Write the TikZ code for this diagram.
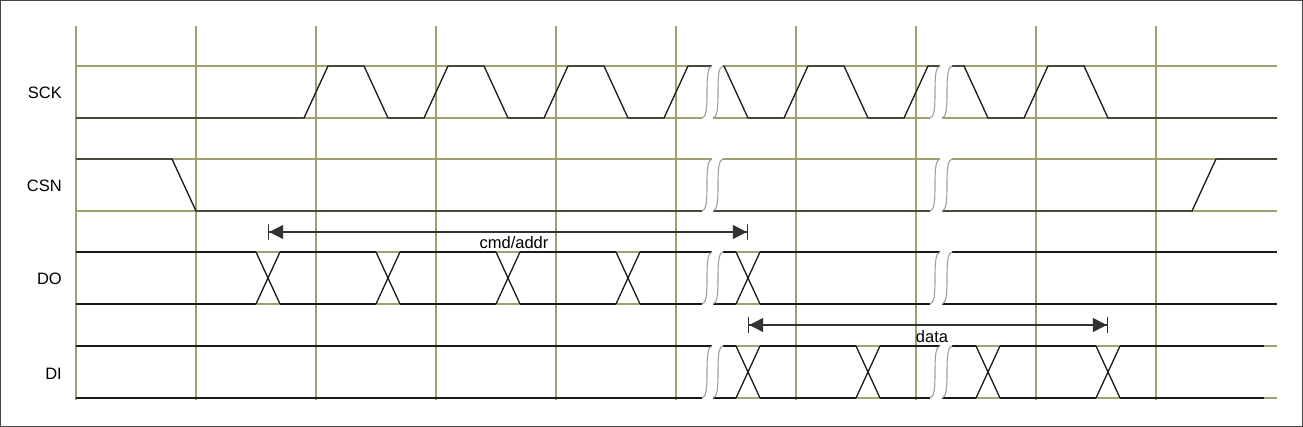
\documentclass[tikz,border=0pt]{standalone}
\usepackage{fontspec}
\setmainfont{Liberation Sans}
\usetikzlibrary{arrows.meta}
\definecolor{gridc}{RGB}{160,160,110}
\definecolor{sig}{RGB}{25,25,25}
\definecolor{brk}{RGB}{160,160,160}
\definecolor{frame}{RGB}{70,70,70}
\newcommand{\brksym}[4]{%
  \pgfmathsetmacro{\brkM}{(#3+#4)/2}%
  \pgfmathsetmacro{\brkR}{#1+#2}%
  \fill[white] (#1+10,#3-1) -- (#1+10,#3) .. controls (#1+6,#3+1) and (#1+5,#3+8) .. (#1+5,\brkM)
     .. controls (#1+5,#4-8) and (#1+4,#4-1) .. (#1,#4) -- (#1,#4+1) -- (\brkR,#4+1) -- (\brkR,#4)
     .. controls (\brkR+4,#4-1) and (\brkR+5,#4-8) .. (\brkR+5,\brkM)
     .. controls (\brkR+5,#3+8) and (\brkR+6,#3+1) .. (\brkR+10,#3) -- (\brkR+10,#3-1) -- cycle;
  \draw[brkcurve] (#1+10,#3) .. controls (#1+6,#3+1) and (#1+5,#3+8) .. (#1+5,\brkM)
     .. controls (#1+5,#4-8) and (#1+4,#4-1) .. (#1,#4);
  \draw[brkcurve] (\brkR+10,#3) .. controls (\brkR+6,#3+1) and (\brkR+5,#3+8) .. (\brkR+5,\brkM)
     .. controls (\brkR+5,#4-8) and (\brkR+4,#4-1) .. (\brkR,#4);
}
\begin{document}
\begin{tikzpicture}[x=1pt,y=-1pt,
  gridline/.style={draw=gridc,line width=1.4pt},
  wave/.style={draw=sig,line width=1.3pt,line join=miter},
  brkcurve/.style={draw=brk,line width=1.1pt},
  lab/.style={font=\fontsize{16.5}{19}\selectfont,inner sep=0pt},
  dimline/.style={draw=black!80,line width=1.2pt,
    {Bar[width=16pt]Triangle[length=14pt,width=14pt]}-{Triangle[length=14pt,width=14pt]Bar[width=16pt]}}
]
\useasboundingbox (0,0) rectangle (1303,427);
\draw[frame,line width=1pt] (0.5,0.5) rectangle (1302.5,426.5);

% grid
\foreach \x in {76,196,316,436,556,676,796,916,1036,1156}
  \draw[gridline] (\x,26) -- (\x,400);
\foreach \y in {66,118,159,211,252,304,346,398}
  \draw[gridline] (76,\y) -- (1277,\y);

% SCK
\draw[wave] (76,118) -- (304,118) -- (328,66) -- (364,66) -- (388,118) -- (424,118) -- (448,66)
  -- (484,66) -- (508,118) -- (544,118) -- (568,66) -- (604,66) -- (628,118) -- (664,118)
  -- (688,66) -- (724,66) -- (748,118) -- (784,118) -- (808,66) -- (844,66) -- (868,118)
  -- (904,118) -- (928,66) -- (964,66) -- (988,118) -- (1024,118) -- (1048,66) -- (1084,66)
  -- (1108,118) -- (1277,118);

% CSN
\draw[wave] (76,159) -- (172,159) -- (196,211) -- (1192,211) -- (1216,159) -- (1277,159);

% DO
\foreach \a/\b in {76/256,280/376,400/496,520/616,640/736,760/1277}{
  \draw[wave] (\a,252) -- (\b,252);
  \draw[wave] (\a,304) -- (\b,304);
}
\foreach \c in {268,388,508,628,748}{
  \draw[wave] (\c-12,252) -- (\c+12,304);
  \draw[wave] (\c-12,304) -- (\c+12,252);
}

% DI
\foreach \a/\b in {76/736,760/856,880/976,1000/1096,1120/1264}{
  \draw[wave] (\a,346) -- (\b,346);
  \draw[wave] (\a,398) -- (\b,398);
}
\foreach \c in {748,868,988,1108}{
  \draw[wave] (\c-12,346) -- (\c+12,398);
  \draw[wave] (\c-12,398) -- (\c+12,346);
}

% breaks
\foreach \t/\b in {66/118,159/211,252/304,346/398}{
  \brksym{702}{11}{\t}{\b}
  \brksym{930}{12}{\t}{\b}
}

% labels
\node[lab,anchor=base east] (sck) at (62,99) {SCK};
\node[lab,anchor=base east] (csn) at (62,192) {CSN};
\node[lab,anchor=base east] (do) at (62,285) {DO};
\node[lab,anchor=base east] (di) at (62,379) {DI};

% dimension arrows
\coordinate (ca1) at (268,232);
\coordinate (ca2) at (748,232);
\draw[dimline] (ca1) -- (ca2);
\node[lab,anchor=base] (cmdlab) at (514,249) {cmd/addr};
\coordinate (da1) at (748,325);
\coordinate (da2) at (1108,325);
\draw[dimline] (da1) -- (da2);
\node[lab,anchor=base] (datalab) at (932,343) {data};
\end{tikzpicture}
\end{document}
